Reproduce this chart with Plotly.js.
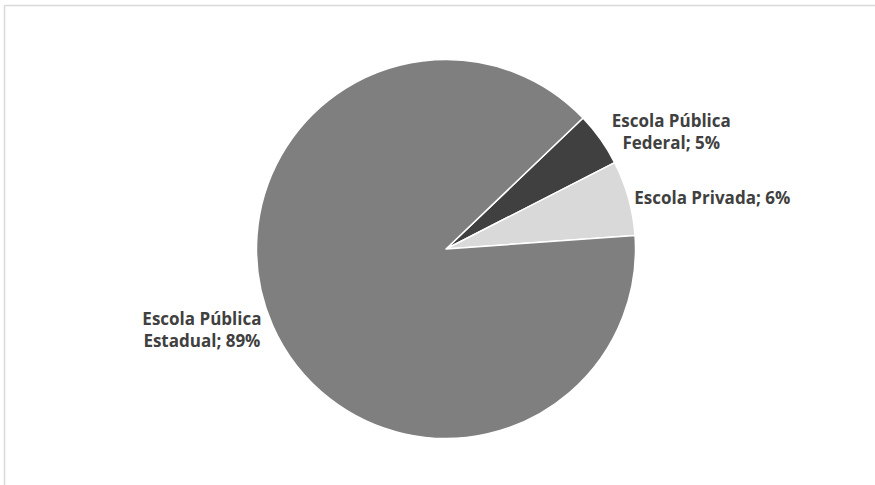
<!DOCTYPE html>
<html>
<head>
<meta charset="utf-8">
<script src="https://cdn.plot.ly/plotly-3.0.1.min.js"></script>
<style>html,body{margin:0;padding:0;background:#fff;}#chart{width:875px;height:485px;}</style>
</head>
<body>
<div id="chart"></div>
<script>
const categories = ["Escola Pública<br>Federal", "Escola Privada", "Escola Pública<br>Estadual"];
const values = [4.6, 6.4, 89.0];
const colors = ["#404040", "#d9d9d9", "#7f7f7f"];

const W = 875, H = 485;
const cx = 446, cy = 249, r = 189.5;

const trace = {
  type: "pie",
  labels: categories,
  values: values,
  sort: false,
  direction: "clockwise",
  rotation: 46.3,
  marker: {colors: colors, line: {color: "#ffffff", width: 1.5}},
  textposition: "outside",
  texttemplate: "%{label}; %{percent:.0%}",
  textfont: {family: "Open Sans", size: 17, color: "#404040", weight: "bold"},
  outsidetextfont: {family: "Open Sans", size: 17, color: "#404040", weight: "bold"},
  hoverinfo: "none",
  showlegend: false,
  domain: {x: [(cx - r) / W, (cx + r) / W], y: [(H - cy - r) / H, (H - cy + r) / H]}
};

const layout = {
  width: W, height: H,
  margin: {l: 0, r: 0, t: 0, b: 0},
  paper_bgcolor: "#ffffff",
  showlegend: false,
  shapes: [
    {type: "line", xref: "paper", yref: "paper", x0: 4.5 / W, x1: 1, y0: 1 - 5.5 / H, y1: 1 - 5.5 / H, line: {color: "#d9d9d9", width: 1.5}},
    {type: "line", xref: "paper", yref: "paper", x0: 4.5 / W, x1: 4.5 / W, y0: 0, y1: 1 - 5.5 / H, line: {color: "#d9d9d9", width: 1.5}}
  ]
};

Plotly.newPlot("chart", [trace], layout, {displayModeBar: false, staticPlot: true});
</script>
</body>
</html>
